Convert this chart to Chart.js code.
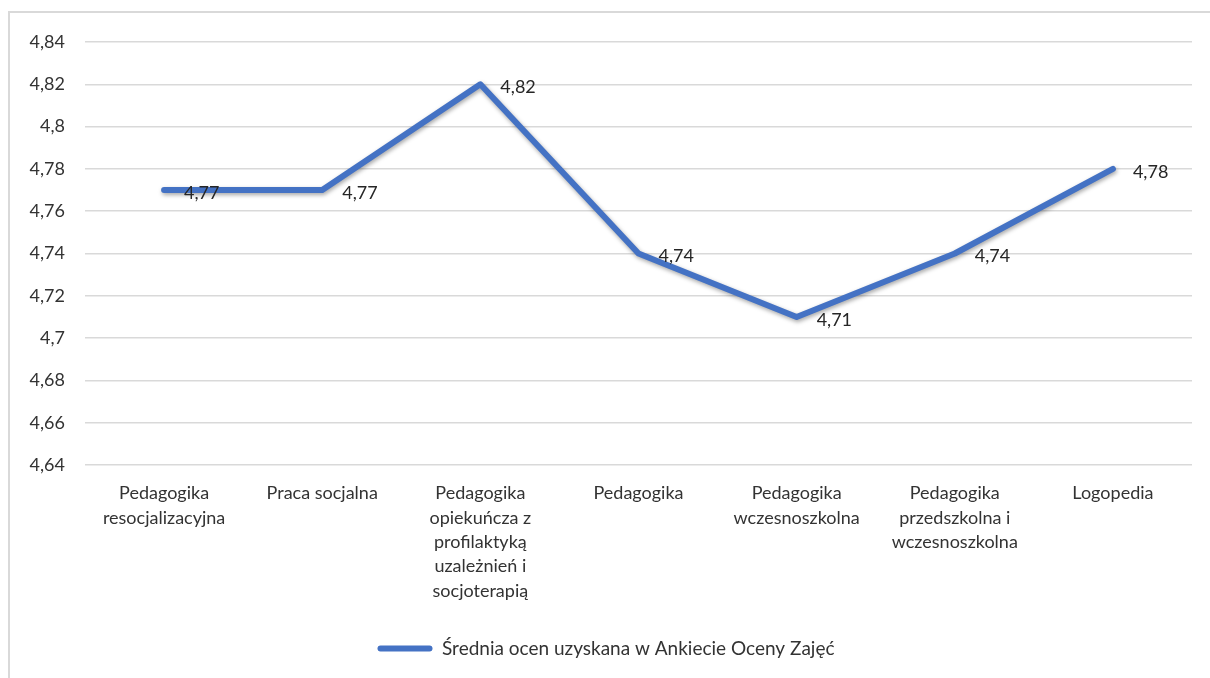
<!DOCTYPE html>
<html><head><meta charset="utf-8">
<script src="https://cdn.jsdelivr.net/npm/chart.js@4/dist/chart.umd.min.js"></script>
<style>
html,body{margin:0;padding:0;background:#fff;overflow:hidden;}
#frame{position:absolute;left:8px;top:11px;width:1400px;height:900px;border:2px solid #d9d9d9;box-sizing:border-box;}
#wrap{position:absolute;left:0;top:0;width:1210px;height:678px;}
</style></head>
<body>
<div id="frame"></div>
<div id="wrap"><canvas id="c" width="1210" height="678"></canvas></div>
<script>
const categories = [
  ["Pedagogika","resocjalizacyjna"],
  ["Praca socjalna"],
  ["Pedagogika","opiekuńcza z","profilaktyką","uzależnień i","socjoterapią"],
  ["Pedagogika"],
  ["Pedagogika","wczesnoszkolna"],
  ["Pedagogika","przedszkolna i","wczesnoszkolna"],
  ["Logopedia"]
];
const seriesName = "Średnia ocen uzyskana w Ankiecie Oceny Zajęć";
const values = [4.77, 4.77, 4.82, 4.74, 4.71, 4.74, 4.78];
const yMin = 4.64, yMax = 4.84, yStep = 0.02;

const fmt = v => (Math.round(v*100)/100).toString().replace('.', ',');
const FONT = 'Lato, "Open Sans", sans-serif';

const shadowPlugin = {
  id:'shadow',
  beforeDatasetDraw(chart){ const c=chart.ctx; c.save(); c.shadowColor='rgba(0,0,0,0.35)'; c.shadowBlur=4; c.shadowOffsetX=1; c.shadowOffsetY=2; },
  afterDatasetDraw(chart){ chart.ctx.restore(); }
};
const labelPlugin = {
  id:'dlabels',
  afterDatasetsDraw(chart){
    const c=chart.ctx; const meta=chart.getDatasetMeta(0);
    c.save(); c.font='18px '+FONT; c.fillStyle='#262626'; c.textAlign='left'; c.textBaseline='middle';
    meta.data.forEach((pt,i)=>{ c.fillText(fmt(chart.data.datasets[0].data[i]), pt.x+20, pt.y+3); });
    c.restore();
  }
};

new Chart(document.getElementById('c'), {
  type:'line',
  data:{ labels:categories, datasets:[{ label:seriesName, data:values, borderColor:'#4472C4', backgroundColor:'#4472C4', borderWidth:6, pointRadius:0, borderCapStyle:'round', borderJoinStyle:'round', tension:0 }]},
  options:{
    responsive:false, animation:false,
    layout:{ padding:{ left:20, right:18, top:42, bottom:10 } },
    scales:{
      x:{ offset:true, grid:{display:false, drawTicks:false}, border:{display:false},
          ticks:{ font:{size:18, family:FONT, lineHeight:1.36}, color:'#333', padding:16, maxRotation:0, autoSkip:false },
          afterFit(s){ s.height = 164; } },
      y:{ min:yMin, max:yMax, grid:{color:'#d9d9d9', lineWidth:1.5, drawTicks:false}, border:{display:false},
          ticks:{ stepSize:yStep, font:{size:18, family:FONT}, color:'#333', padding:20, callback:v=>fmt(v) },
          afterFit(s){ s.width = 65; } }
    },
    plugins:{
      legend:{ position:'bottom', labels:{ font:{size:19, family:FONT}, color:'#333', boxWidth:55, boxHeight:6, padding:10,
        generateLabels(chart){
          const items = Chart.defaults.plugins.legend.labels.generateLabels(chart);
          items.forEach(it=>{ it.lineWidth=0; it.borderRadius=3; });
          return items;
        } } },
      tooltip:{enabled:false}
    }
  },
  plugins:[shadowPlugin, labelPlugin]
});
</script>
</body></html>
